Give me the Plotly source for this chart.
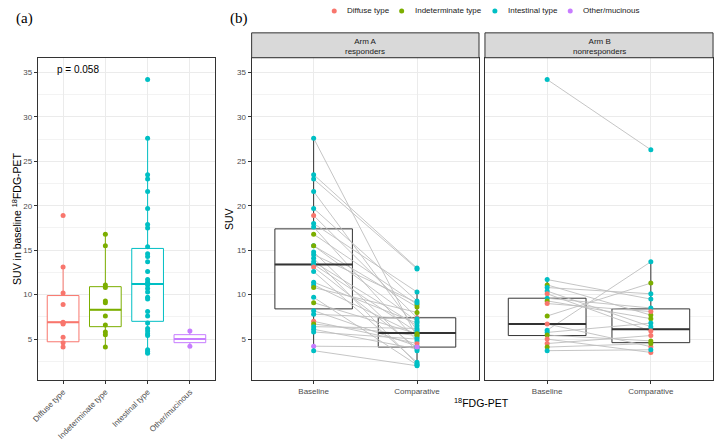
import plotly.graph_objects as go

W, H = 718, 441

# --- data -------------------------------------------------------------
types = ["Diffuse type", "Indeterminate type", "Intestinal type", "Other/mucinous"]
type_colors = ["#F8766D", "#7CAE00", "#00BFC4", "#C77CFF"]

# panel (a): baseline SUV by histotype
diffuse_suv = [18.9, 13.1, 10.2, 8.9, 6.9, 6.8, 6.7, 5.2, 4.6, 4.1]
indeterminate_suv = [16.8, 15.5, 11.1, 10.8, 9.3, 9.1, 7.6, 6.6, 5.8, 5.5, 4.1]
intestinal_suv = [34.2, 27.6, 23.5, 23.0, 21.6, 19.7, 17.9, 17.5, 15.4, 14.6, 14.3,
                  13.7, 12.6, 11.7, 11.4, 11.1, 10.7, 10.3, 9.7, 9.5, 8.1, 7.6,
                  6.8, 6.2, 5.9, 5.6, 5.4, 3.8, 3.6, 3.4]
other_suv = [5.9, 4.2]
# box stats (lower whisker, q1, median, q3, upper whisker)
a_lower = [4.1, 4.1, 3.4, 4.2]
a_q1 = [4.7, 6.4, 7.0, 4.6]
a_median = [6.9, 8.3, 11.2, 5.0]
a_q3 = [9.9, 10.9, 15.2, 5.5]
a_upper = [13.1, 16.8, 27.6, 5.9]
p_label = "p = 0.058"

# panel (b): paired baseline / comparative SUV
timepoints = ["Baseline", "Comparative"]
arms = ["Arm A<br>responders", "Arm B<br>nonresponders"]

armA_base = [27.6, 23.5, 23.0, 21.6, 19.7, 18.9, 18.0, 17.6, 16.8, 15.5, 15.5, 14.8,
             14.5, 14.1, 13.7, 13.4, 13.1, 12.6, 11.4, 11.1, 10.8, 9.7, 9.1, 8.2,
             7.8, 7.0, 6.7, 6.4, 6.1, 5.8, 4.2, 3.7]
armA_comp = [5.2, 13.0, 12.9, 6.0, 9.3, 7.4, 10.3, 4.8, 8.9, 7.0, 8.6, 3.7,
             9.1, 2.2, 6.5, 5.8, 4.0, 2.4, 6.8, 5.5, 8.0, 2.1, 5.6, 4.2,
             7.3, 4.5, 5.4, 6.2, 3.9, 5.0, 4.1, 2.0]
armA_type = ["Intestinal type", "Intestinal type", "Intestinal type", "Intestinal type",
             "Intestinal type", "Diffuse type", "Intestinal type", "Intestinal type",
             "Indeterminate type", "Intestinal type", "Indeterminate type", "Intestinal type",
             "Intestinal type", "Intestinal type", "Intestinal type", "Intestinal type",
             "Diffuse type", "Intestinal type", "Intestinal type", "Intestinal type",
             "Indeterminate type", "Intestinal type", "Indeterminate type", "Intestinal type",
             "Intestinal type", "Diffuse type", "Indeterminate type", "Intestinal type",
             "Intestinal type", "Intestinal type", "Other/mucinous", "Intestinal type"]

armB_base = [34.2, 11.7, 11.1, 10.8, 10.4, 10.1, 9.6, 9.3, 9.0, 7.6, 6.7, 6.0,
             5.75, 5.45, 5.0, 4.5, 4.1, 3.7]
armB_comp = [26.3, 9.5, 7.7, 10.1, 6.4, 5.9, 8.5, 7.3, 8.1, 11.3, 4.15, 13.7,
             6.8, 4.8, 3.5, 5.4, 4.5, 3.8]
armB_type = ["Intestinal type", "Intestinal type", "Indeterminate type", "Intestinal type",
             "Intestinal type", "Diffuse type", "Intestinal type", "Indeterminate type",
             "Diffuse type", "Indeterminate type", "Diffuse type", "Intestinal type",
             "Intestinal type", "Indeterminate type", "Diffuse type", "Diffuse type",
             "Indeterminate type", "Intestinal type"]

# box stats per arm: [baseline, comparative]
b_lower = [[3.7, 2.0], [3.7, 3.5]]
b_q1 = [[8.4, 4.1], [5.4, 4.6]]
b_median = [[13.4, 5.7], [6.7, 6.1]]
b_q3 = [[17.4, 7.4], [9.6, 8.4]]
b_upper = [[27.6, 10.3], [11.7, 13.7]]

# --- helpers -------------------------------------------------------------
color_of = dict(zip(types, type_colors))
FONT = "Liberation Sans, Arial, sans-serif"
DARK = "#333333"
BOXW = 0.75


def px(x):
    return x / W


def py(y):
    return 1 - y / H


fig = go.Figure()

# panel (a) boxes
a_values = [diffuse_suv, indeterminate_suv, intestinal_suv, other_suv]
for i, t in enumerate(types):
    fig.add_trace(go.Box(
        x=[i + 1], lowerfence=[a_lower[i]], q1=[a_q1[i]], median=[a_median[i]],
        q3=[a_q3[i]], upperfence=[a_upper[i]], width=BOXW, whiskerwidth=0,
        boxpoints=False, fillcolor="white", line=dict(color=type_colors[i], width=1),
        xaxis="x", yaxis="y", showlegend=False, hoverinfo="skip"))

# panel (b) boxes
for k in range(2):
    ax = str(k + 2)
    for j in range(2):
        fig.add_trace(go.Box(
            x=[j + 1], lowerfence=[b_lower[k][j]], q1=[b_q1[k][j]], median=[b_median[k][j]],
            q3=[b_q3[k][j]], upperfence=[b_upper[k][j]], width=BOXW, whiskerwidth=0,
            boxpoints=False, fillcolor="white", line=dict(color=DARK, width=1),
            xaxis="x" + ax, yaxis="y" + ax, showlegend=False, hoverinfo="skip"))

# thicker median bars (ggplot style)
for i, t in enumerate(types):
    fig.add_trace(go.Scatter(
        x=[i + 1 - BOXW / 2, i + 1 + BOXW / 2], y=[a_median[i]] * 2, mode="lines",
        line=dict(color=type_colors[i], width=2), xaxis="x", yaxis="y",
        showlegend=False, hoverinfo="skip"))

# paired lines, medians and points in (b)
for k, (base, comp, typ) in enumerate([(armA_base, armA_comp, armA_type),
                                       (armB_base, armB_comp, armB_type)]):
    ax = str(k + 2)
    lx, ly = [], []
    for b, c in zip(base, comp):
        lx += [1, 2, None]
        ly += [b, c, None]
    fig.add_trace(go.Scatter(x=lx, y=ly, mode="lines",
                             line=dict(color="#BEBEBE", width=0.9),
                             xaxis="x" + ax, yaxis="y" + ax, showlegend=False,
                             hoverinfo="skip"))
    mx, my = [], []
    for j in range(2):
        mx += [j + 1 - BOXW / 2, j + 1 + BOXW / 2, None]
        my += [b_median[k][j], b_median[k][j], None]
    fig.add_trace(go.Scatter(x=mx, y=my, mode="lines", line=dict(color=DARK, width=2),
                             xaxis="x" + ax, yaxis="y" + ax, showlegend=False,
                             hoverinfo="skip"))
    fig.add_trace(go.Scatter(
        x=[1] * len(base) + [2] * len(comp), y=base + comp, mode="markers",
        marker=dict(size=5, color=[color_of[t] for t in typ + typ], line=dict(width=0)),
        xaxis="x" + ax, yaxis="y" + ax, showlegend=False, hoverinfo="skip"))

# points in (a)
for i, vals in enumerate(a_values):
    fig.add_trace(go.Scatter(
        x=[i + 1] * len(vals), y=vals, mode="markers",
        marker=dict(size=5, color=type_colors[i], line=dict(width=0)),
        xaxis="x", yaxis="y", showlegend=False, hoverinfo="skip"))

# --- axes ---------------------------------------------------------------
ydom = [py(382), py(58)]
yrange = [0.37, 36.65]
common_x = dict(showline=True, mirror=True, linecolor=DARK, linewidth=1,
                ticks="outside", ticklen=3, tickcolor=DARK, showgrid=True,
                gridcolor="#EBEBEB", gridwidth=0.8, zeroline=False,
                tickfont=dict(family=FONT, size=8, color="#4D4D4D"))
common_y = dict(common_x, range=yrange, domain=ydom, tick0=0, dtick=5,
                minor=dict(tick0=0, dtick=2.5, showgrid=True, gridcolor="#F3F3F3",
                           gridwidth=0.6, ticks=""))

fig.update_layout(
    width=W, height=H, margin=dict(l=0, r=0, t=0, b=0),
    paper_bgcolor="white", plot_bgcolor="white", showlegend=False,
    xaxis=dict(common_x, domain=[px(32), px(211)], range=[0.4, 4.6], anchor="y",
               tickvals=[1, 2, 3, 4], ticktext=types, tickangle=-45),
    yaxis=dict(common_y, anchor="x"),
    xaxis2=dict(common_x, domain=[px(247.7), px(477)], range=[0.4, 2.6], anchor="y2",
                tickvals=[1, 2], ticktext=timepoints),
    yaxis2=dict(common_y, anchor="x2"),
    xaxis3=dict(common_x, domain=[px(483), px(713)], range=[0.4, 2.6], anchor="y3",
                tickvals=[1, 2], ticktext=timepoints),
    yaxis3=dict(common_y, anchor="x3", showticklabels=False, ticks=""),
)

# facet strips
for k, arm in enumerate(arms):
    ax = "x" + str(k + 2)
    fig.add_shape(type="rect", xref=ax + " domain", yref="paper", x0=0, x1=1,
                  y0=py(58), y1=py(33), fillcolor="#D9D9D9",
                  line=dict(color=DARK, width=1))
    fig.add_annotation(xref=ax + " domain", yref="paper", x=0.5, y=py(46.5),
                       text=arm, showarrow=False, xanchor="center", yanchor="middle",
                       font=dict(family=FONT, size=8, color="#1A1A1A"))

# legend (top, horizontal)
leg_x = [331, 399, 493, 569]
for t, c, x in zip(types, type_colors, leg_x):
    fig.add_shape(type="circle", xref="paper", yref="paper", xsizemode="pixel",
                  ysizemode="pixel", xanchor=px(x), yanchor=py(11),
                  x0=-2.5, x1=2.5, y0=-2.5, y1=2.5, fillcolor=c, line=dict(width=0))
    fig.add_annotation(xref="paper", yref="paper", x=px(x + 11), y=py(11), text=t,
                       showarrow=False, xanchor="left", yanchor="middle",
                       font=dict(family=FONT, size=8, color="#1A1A1A"))

# titles and labels
fig.add_annotation(xref="paper", yref="paper", x=px(8), y=py(19), text="(a)",
                   showarrow=False, xanchor="left", yanchor="middle",
                   font=dict(family="Liberation Serif, Times New Roman, serif", size=15,
                             color="black"))
fig.add_annotation(xref="paper", yref="paper", x=px(224), y=py(19), text="(b)",
                   showarrow=False, xanchor="left", yanchor="middle",
                   font=dict(family="Liberation Serif, Times New Roman, serif", size=15,
                             color="black"))
fig.add_annotation(xref="paper", yref="paper", x=px(49), y=py(70), text=p_label,
                   showarrow=False, xanchor="left", yanchor="middle",
                   font=dict(family=FONT, size=10, color="black"))
fig.add_annotation(xref="paper", yref="paper", x=px(10), y=py(220),
                   text="SUV in baseline <sup>18</sup>FDG-PET", textangle=-90,
                   showarrow=False, xanchor="center", yanchor="middle",
                   font=dict(family=FONT, size=10.5, color="black"))
fig.add_annotation(xref="paper", yref="paper", x=px(225), y=py(220), text="SUV",
                   textangle=-90, showarrow=False, xanchor="center", yanchor="middle",
                   font=dict(family=FONT, size=10.5, color="black"))
fig.add_annotation(xref="paper", yref="paper", x=px(480), y=py(404),
                   text="<sup>18</sup>FDG-PET", showarrow=False,
                   xanchor="center", yanchor="middle",
                   font=dict(family=FONT, size=10.5, color="black"))

fig.write_html("out.html", config={"displayModeBar": False},
               post_script="document.body.style.margin='0';"
                           "document.body.style.overflow='hidden';")
